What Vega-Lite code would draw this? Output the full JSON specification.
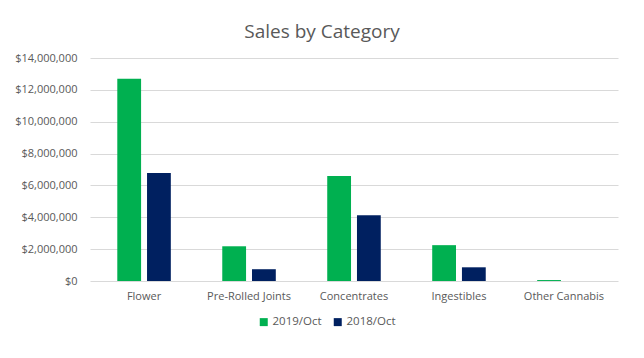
{
  "$schema": "https://vega.github.io/schema/vega-lite/v6.json",
  "autosize": "none",
  "width": 528,
  "height": 223,
  "padding": {"left": 90, "top": 58, "right": 26, "bottom": 77},
  "background": "white",
  "title": {"text": "Sales by Category", "fontSize": 19, "font": "Open Sans", "fontWeight": "normal", "color": "#595959", "offset": 10, "dx": -32},
  "data": {"values": [
    {"category": "Flower", "period": "2019/Oct", "sales": 12690000},
    {"category": "Flower", "period": "2018/Oct", "sales": 6780000},
    {"category": "Pre-Rolled Joints", "period": "2019/Oct", "sales": 2180000},
    {"category": "Pre-Rolled Joints", "period": "2018/Oct", "sales": 740000},
    {"category": "Concentrates", "period": "2019/Oct", "sales": 6590000},
    {"category": "Concentrates", "period": "2018/Oct", "sales": 4130000},
    {"category": "Ingestibles", "period": "2019/Oct", "sales": 2250000},
    {"category": "Ingestibles", "period": "2018/Oct", "sales": 860000},
    {"category": "Other Cannabis", "period": "2019/Oct", "sales": 60000},
    {"category": "Other Cannabis", "period": "2018/Oct", "sales": 0}
  ]},
  "mark": {"type": "bar"},
  "encoding": {
    "x": {"field": "category", "type": "nominal", "sort": null,
      "scale": {"paddingInner": 0.49, "paddingOuter": 0.26},
      "axis": {"title": null, "labelAngle": 0, "ticks": false, "domain": false, "labelFont": "Open Sans", "labelFontSize": 11, "labelColor": "#595959", "labelPadding": 9}},
    "xOffset": {"field": "period", "type": "nominal", "sort": ["2019/Oct", "2018/Oct"],
      "scale": {"paddingInner": 0.2, "paddingOuter": 0}},
    "y": {"field": "sales", "type": "quantitative",
      "scale": {"domain": [0, 14000000]},
      "axis": {"title": null, "format": "$,.0f", "values": [0, 2000000, 4000000, 6000000, 8000000, 10000000, 12000000, 14000000], "ticks": false, "domain": false, "gridColor": "#d9d9d9", "labelFont": "Open Sans", "labelFontSize": 11, "labelColor": "#595959", "labelPadding": 13}},
    "color": {"field": "period", "type": "nominal", "sort": ["2019/Oct", "2018/Oct"],
      "scale": {"domain": ["2019/Oct", "2018/Oct"], "range": ["#00B050", "#002060"]},
      "legend": {"title": null, "orient": "none", "direction": "horizontal", "legendX": 168, "legendY": 258, "symbolType": "square", "symbolSize": 64, "labelFont": "Open Sans", "labelFontSize": 11.5, "labelColor": "#595959", "columnPadding": 10, "labelOffset": 3}}
  },
  "config": {"view": {"stroke": null}}
}
